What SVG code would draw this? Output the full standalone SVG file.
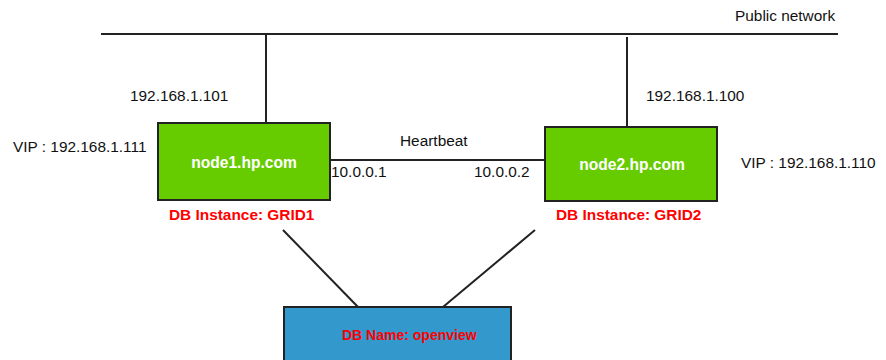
<svg xmlns="http://www.w3.org/2000/svg" width="886" height="360" viewBox="0 0 886 360">
<style>
.t{font-family:"Liberation Sans",Arial,sans-serif;font-size:15.4px;fill:#111}
.n{font-family:"Liberation Sans",Arial,sans-serif;font-size:15.6px;font-weight:bold;fill:#fff}
.r{font-family:"Liberation Sans",Arial,sans-serif;font-size:15.4px;font-weight:bold;fill:#ff0000}
.l{stroke:#222;stroke-width:2;fill:none}
</style>
<rect width="886" height="360" fill="#fff"/>
<g id="connectors">
<line class="l" x1="101" y1="34" x2="838" y2="34"/>
<line class="l" x1="266" y1="34" x2="266" y2="123"/>
<line class="l" x1="627" y1="37" x2="627" y2="127"/>
<line class="l" x1="330" y1="160" x2="545" y2="160"/>
<line class="l" x1="283" y1="230" x2="358" y2="307"/>
<line class="l" x1="535" y1="230" x2="443" y2="307"/>
</g>
<g id="public-network"><text class="t" x="735" y="21">Public network</text></g>
<g id="node1">
<rect x="158" y="123" width="172" height="77" fill="#66cc00" stroke="#222" stroke-width="2"/>
<text class="n" x="244" y="168" text-anchor="middle">node1.hp.com</text>
<text class="t" x="130" y="101">192.168.1.101</text>
<text class="t" x="13" y="152">VIP : 192.168.1.111</text>
<text class="t" x="331" y="177">10.0.0.1</text>
<text class="r" x="169" y="220">DB Instance: GRID1</text>
</g>
<g id="heartbeat"><text class="t" x="400" y="146">Heartbeat</text></g>
<g id="node2">
<rect x="545" y="127" width="172" height="74" fill="#66cc00" stroke="#222" stroke-width="2"/>
<text class="n" x="632" y="170" text-anchor="middle">node2.hp.com</text>
<text class="t" x="646" y="101">192.168.1.100</text>
<text class="t" x="741" y="168">VIP : 192.168.1.110</text>
<text class="t" x="474" y="177">10.0.0.2</text>
<text class="r" x="556" y="220">DB Instance: GRID2</text>
</g>
<g id="db">
<rect x="284" y="307" width="227" height="60" fill="#3399cc" stroke="#222" stroke-width="2"/>
<text class="r" x="342" y="340" style="font-size:14px">DB Name: openview</text>
</g>
</svg>
